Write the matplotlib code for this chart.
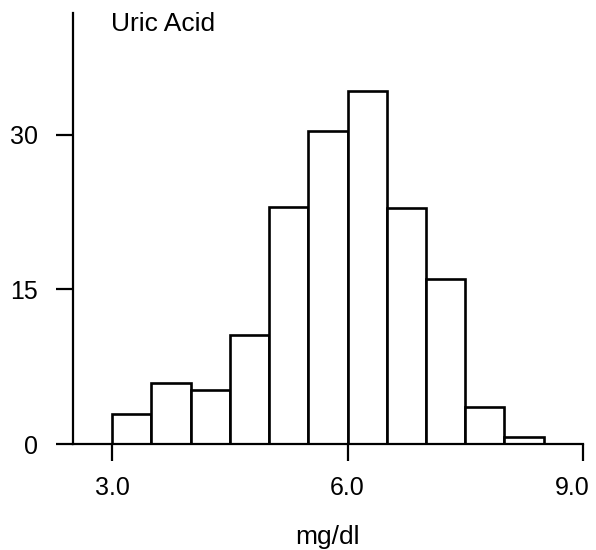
import numpy as np
import matplotlib.pyplot as plt
from matplotlib.transforms import ScaledTranslation

plt.rcParams['font.family'] = ['Liberation Sans', 'DejaVu Sans']

# histogram of uric acid levels, bins of 0.5 mg/dl
bin_edges = [3.0, 3.5, 4.0, 4.5, 5.0, 5.5, 6.0, 6.5, 7.0, 7.5, 8.0]
counts = [2.9, 5.9, 5.2, 10.6, 23.0, 30.4, 34.2, 22.9, 16.0, 3.6, 0.7]
bin_width = 0.5

x_ticks = [3.0, 6.0, 9.0]
x_tick_labels = ['3.0', '6.0', '9.0']
y_ticks = [0, 15, 30]

fig = plt.figure(figsize=(5.96, 5.5), dpi=100)
ax = fig.add_axes([0.1225, 0.1927, 0.8555, 0.7837])

ax.bar(bin_edges, counts, width=bin_width, align='edge',
       facecolor='white', edgecolor='black', linewidth=1.9, zorder=2)

ax.set_xlim(2.5, 9.0)
ax.set_ylim(0, 41.8)

for side in ['top', 'right']:
    ax.spines[side].set_visible(False)
for side in ['left', 'bottom']:
    ax.spines[side].set_linewidth(1.6)

ax.set_xticks(x_ticks)
ax.set_xticklabels(x_tick_labels)
ax.set_yticks(y_ticks)
ax.tick_params(axis='x', direction='out', length=12, width=1.6, pad=11, labelsize=18)
ax.tick_params(axis='y', direction='out', length=12, width=1.6, pad=13, labelsize=18)

# last tick label sits a little left of its tick
last = ax.get_xticklabels()[-1]
last.set_transform(last.get_transform() + ScaledTranslation(-11 / 100, 0, fig.dpi_scale_trans))

ax.set_xlabel('mg/dl', fontsize=19, labelpad=18)
ax.text(2.98, 40.7, 'Uric Acid', fontsize=19, ha='left', va='center')

fig.savefig('out.png', dpi=100)
